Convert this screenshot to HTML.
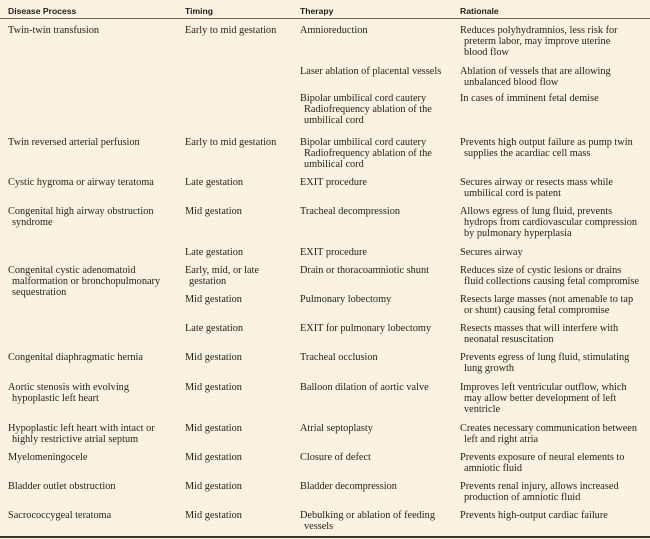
<!DOCTYPE html>
<html><head><meta charset="utf-8"><style>
body{margin:0;width:650px;height:539px;background:#fcf2e2;position:relative;overflow:hidden;font-family:"Liberation Serif",serif;font-size:10.3px;color:#231d19}
.c{position:absolute;line-height:11px;white-space:nowrap}
.c span{display:block}
.c span+span{padding-left:4px}
.h{position:absolute;top:6px;font-family:"Liberation Sans",sans-serif;font-weight:bold;font-size:8.6px;color:#231d19}
#hl{position:absolute;left:0;top:18px;width:650px;height:1px;background:#6b6259}
#bl{position:absolute;left:0;top:536px;width:650px;height:2px;background:#3a342e}
</style></head><body>
<div class="h" style="left:8px">Disease Process</div>
<div class="h" style="left:185px">Timing</div>
<div class="h" style="left:300px">Therapy</div>
<div class="h" style="left:460px">Rationale</div>
<div id="hl"></div>
<div id="bl"></div>
<div id="body"></div>
<script>
const rows=[
[31,["Twin-twin transfusion"],["Early to mid gestation"],["Amnioreduction"],["Reduces polyhydramnios, less risk for","preterm labor, may improve uterine","blood flow"]],
[72,[],[],["Laser ablation of placental vessels"],["Ablation of vessels that are allowing","unbalanced blood flow"]],
[99,[],[],["Bipolar umbilical cord cautery","Radiofrequency ablation of the","umbilical cord"],["In cases of imminent fetal demise"]],
[143,["Twin reversed arterial perfusion"],["Early to mid gestation"],["Bipolar umbilical cord cautery","Radiofrequency ablation of the","umbilical cord"],["Prevents high output failure as pump twin","supplies the acardiac cell mass"]],
[183,["Cystic hygroma or airway teratoma"],["Late gestation"],["EXIT procedure"],["Secures airway or resects mass while","umbilical cord is patent"]],
[212,["Congenital high airway obstruction","syndrome"],["Mid gestation"],["Tracheal decompression"],["Allows egress of lung fluid, prevents","hydrops from cardiovascular compression","by pulmonary hyperplasia"]],
[253,[],["Late gestation"],["EXIT procedure"],["Secures airway"]],
[271,["Congenital cystic adenomatoid","malformation or bronchopulmonary","sequestration"],["Early, mid, or late","gestation"],["Drain or thoracoamniotic shunt"],["Reduces size of cystic lesions or drains","fluid collections causing fetal compromise"]],
[300,[],["Mid gestation"],["Pulmonary lobectomy"],["Resects large masses (not amenable to tap","or shunt) causing fetal compromise"]],
[329,[],["Late gestation"],["EXIT for pulmonary lobectomy"],["Resects masses that will interfere with","neonatal resuscitation"]],
[358,["Congenital diaphragmatic hernia"],["Mid gestation"],["Tracheal occlusion"],["Prevents egress of lung fluid, stimulating","lung growth"]],
[388,["Aortic stenosis with evolving","hypoplastic left heart"],["Mid gestation"],["Balloon dilation of aortic valve"],["Improves left ventricular outflow, which","may allow better development of left","ventricle"]],
[429,["Hypoplastic left heart with intact or","highly restrictive atrial septum"],["Mid gestation"],["Atrial septoplasty"],["Creates necessary communication between","left and right atria"]],
[458,["Myelomeningocele"],["Mid gestation"],["Closure of defect"],["Prevents exposure of neural elements to","amniotic fluid"]],
[487,["Bladder outlet obstruction"],["Mid gestation"],["Bladder decompression"],["Prevents renal injury, allows increased","production of amniotic fluid"]],
[516,["Sacrococcygeal teratoma"],["Mid gestation"],["Debulking or ablation of feeding","vessels"],["Prevents high-output cardiac failure"]]
];
const xs=[8,185,300,460];
const names=['disease','timing','therapy','rationale'];
const body=document.getElementById('body');
rows.forEach((r,i)=>{
  for(let k=0;k<4;k++){
    const lines=r[k+1];
    if(!lines.length) continue;
    const d=document.createElement('div');
    d.className='c';
    
    
    d.style.left=xs[k]+'px';
    d.style.top=(r[0]-6)+'px';
    lines.forEach(t=>{const s=document.createElement('span');s.textContent=t;d.appendChild(s);});
    body.appendChild(d);
  }
});
</script>
</body></html>
